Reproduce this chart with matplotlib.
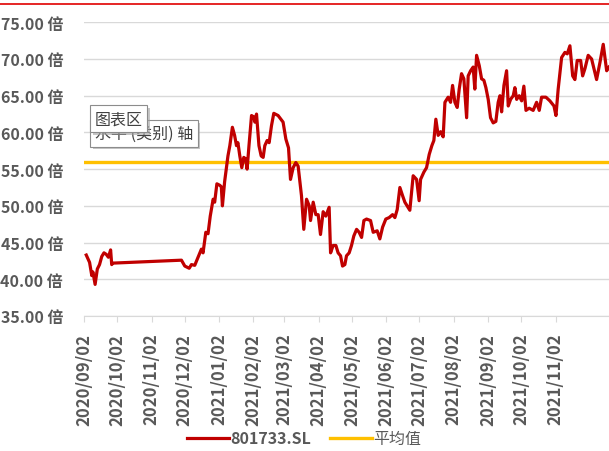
import matplotlib
matplotlib.use('Agg')
import matplotlib.pyplot as plt
import matplotlib.dates as mdates
import matplotlib.patheffects as pe_fx
from matplotlib.lines import Line2D
import numpy as np

plt.rcParams['font.family'] = ['Noto Sans CJK SC', 'DejaVu Sans']

# data: days after 2020-09-02, PE multiple
start = np.datetime64('2020-09-02')
days = [2, 5, 7, 8, 10, 12, 14, 16, 18, 20, 22, 24, 25, 26, 88, 91, 95, 97, 100, 103,
        106, 107.5, 110, 112, 114, 116.6, 118, 120, 122.6, 124, 125, 127, 130, 131.7, 134, 136,
        137.7, 139, 140.7, 142.5, 144.3, 146, 147.3, 149, 151.3, 153.4, 154.3, 155.8, 158, 160,
        161.8, 163.3, 165.4, 167.2, 169.3, 171.4, 175.3, 179.8, 182.3, 184.7, 186.5, 188.9,
        191.3, 193.4, 196.4, 198.5, 201, 203.4, 204.6, 207, 209.4, 211.5, 213.6, 216, 218.4,
        221.4, 222.7, 225, 227.5, 229.5, 231.7, 233.5, 235.6, 237.1, 239.5, 241.6, 243.7,
        246.2, 248.5, 250.7, 252.8, 255.2, 258.8, 261.2, 264.8, 267.2, 269.7, 272.6, 275.6,
        278.7, 280.8, 282.9, 285.3, 287.7, 289.8, 291.9, 294.3, 297.3, 300.4, 302.7, 304, 307,
        309.4, 311.8, 314.2, 316, 317.8, 319.9, 322.1, 324.4, 326, 328.9, 331.1, 332.9, 335,
        337.1, 338.9, 341, 343.1, 345.6, 347, 349.2, 351.5, 353, 354.6, 357, 359.1, 361.2, 363,
        365.1, 367.2, 369.6, 372, 374.1, 375.7, 377.2, 379.3, 381.7, 383.2, 385.3, 387.7,
        389.2, 390.8, 393.1, 395.3, 397.3, 399.2, 402.1, 405.7, 408.8, 411.2, 413.3, 417.2,
        420.8, 424.5, 426.3, 428.3, 431.4, 434.4, 436.5, 438.9, 441.4, 443.4, 445.5, 448.6,
        450.4, 452.5, 455.4, 458.5, 460.6, 463, 466, 469, 472.1, 474.2]
pe = [43.3, 42.3, 40.5, 41.0, 39.3, 41.4, 42.0, 43.1, 43.6, 43.4, 43.0, 44.0, 42.0, 42.2, 42.6, 41.8, 41.5, 42.0, 41.9, 43.0,
      44.1, 43.6, 46.4, 46.2, 48.6, 50.9, 50.5, 53.0, 52.8, 52.6, 50.0, 53.3, 56.8, 58.2, 60.7, 59.6,
      58.2, 58.6, 56.8, 55.2, 56.6, 56.4, 55.0, 58.2, 62.3, 62.1, 61.4, 62.5, 58.2, 56.8,
      56.6, 58.2, 58.9, 58.6, 60.9, 62.6, 62.3, 61.4, 59.1, 57.9, 53.6, 55.2,
      55.9, 55.4, 51.4, 46.8, 50.9, 50.0, 48.0, 50.5, 48.8, 48.8, 46.1, 49.2, 48.6,
      49.8, 43.6, 44.6, 44.6, 43.6, 43.2, 41.8, 42.0, 43.2, 43.6, 44.6, 45.9,
      46.8, 46.4, 45.7, 48.0, 48.2, 48.0, 46.4, 46.6, 45.5, 47.1, 48.2, 48.4,
      48.8, 48.4, 49.5, 52.5, 51.4, 50.5, 50.0, 49.4, 54.1, 53.6, 50.7, 53.6, 54.6,
      55.2, 57.0, 58.2, 58.9, 61.8, 59.6, 60.1, 59.4, 64.1, 64.8, 64.1, 66.4, 64.1,
      63.4, 65.9, 68.0, 67.3, 62.0, 67.7, 68.4, 68.9, 65.9, 70.5, 69.1, 67.3, 67.1, 66.1,
      64.5, 62.0, 61.3, 61.5, 64.1, 65.0, 62.8, 66.4, 68.4, 63.6, 64.5, 65.0,
      66.1, 64.5, 65.0, 64.3, 66.3, 63.0, 63.3, 63.0, 64.1, 63.0, 64.8, 64.8,
      64.3, 63.6, 62.3, 65.9, 70.2, 70.9, 70.7, 71.8, 67.7, 67.2, 69.8, 69.8,
      67.7, 68.7, 70.5, 70.0, 68.7, 67.2, 69.5, 72.0, 68.4, 68.9]
mean_pe = 56.0
series_name = '801733.SL'
mean_name = '平均值'
tick_dates = ['2020-09-02', '2020-10-02', '2020-11-02', '2020-12-02', '2021-01-02',
              '2021-02-02', '2021-03-02', '2021-04-02', '2021-05-02', '2021-06-02',
              '2021-07-02', '2021-08-02', '2021-09-02', '2021-10-02', '2021-11-02']

dates = start + (np.array(days) * 24 * 60).astype('timedelta64[m]')

fig = plt.figure(figsize=(6.09, 4.52), dpi=100)
ax = fig.add_axes([0.138, 0.2987, 0.862, 0.6498])

grey = '#595959'
ax.plot(dates, pe, color='#C00000', lw=2.3, solid_joinstyle='round', label=series_name, zorder=3)
ax.axhline(mean_pe, color='#FFC000', lw=2.4, label=mean_name, zorder=2)

ax.set_ylim(35, 75)
ax.set_yticks(np.arange(35, 76, 5))
ax.set_yticklabels([f'{v:.2f} 倍' for v in np.arange(35, 76, 5)])
ax.set_xlim(start, start + np.timedelta64(474, 'D') + np.timedelta64(5, 'h'))
ax.set_xticks([np.datetime64(d) for d in tick_dates])
ax.xaxis.set_major_formatter(mdates.DateFormatter('%Y/%m/%d'))

ax.grid(axis='y', color='#d9d9d9', lw=1)
ax.set_axisbelow(True)
for s in ['top', 'right', 'left']:
    ax.spines[s].set_visible(False)
ax.spines['bottom'].set_color('#d9d9d9')
ax.tick_params(axis='y', length=0, pad=15, labelsize=11.5, labelcolor=grey)
ax.tick_params(axis='x', length=4, color='#d9d9d9', pad=8, labelsize=12, labelcolor=grey,
               labelrotation=90)
for t in ax.get_yticklabels() + ax.get_xticklabels():
    t.set_fontweight('bold')

# excel tooltips left on the screenshot
shadow = [pe_fx.SimplePatchShadow(offset=(2, -2), shadow_rgbFace='#a0a0a0', alpha=0.6), pe_fx.Normal()]
t1 = ax.text(0.02, 0.622, '水平 (类别) 轴', transform=ax.transAxes, fontsize=11.5, color='#404040',
             va='center', ha='left', zorder=5,
             bbox=dict(boxstyle='square,pad=0.3', fc='white', ec='#8c8c8c', lw=0.8))
t2 = ax.text(0.02, 0.672, '图表区', transform=ax.transAxes, fontsize=11.5, color='#404040',
             va='center', ha='left', zorder=6,
             bbox=dict(boxstyle='square,pad=0.3', fc='white', ec='#8c8c8c', lw=0.8))
for t in (t1, t2):
    t.get_bbox_patch().set_path_effects(shadow)

# red rule at the top
fig.add_artist(Line2D([0, 1], [0.989, 0.989], transform=fig.transFigure, color='#E00000', lw=1.2))

leg = fig.legend(loc='center', bbox_to_anchor=(0.5, 0.027), ncol=2, frameon=False,
                 fontsize=11.5, handlelength=2.6, handletextpad=0.1, columnspacing=1.2)
for t in leg.get_texts():
    t.set_color(grey)
leg.get_texts()[0].set_fontweight('bold')

fig.savefig('out.png', dpi=100)
